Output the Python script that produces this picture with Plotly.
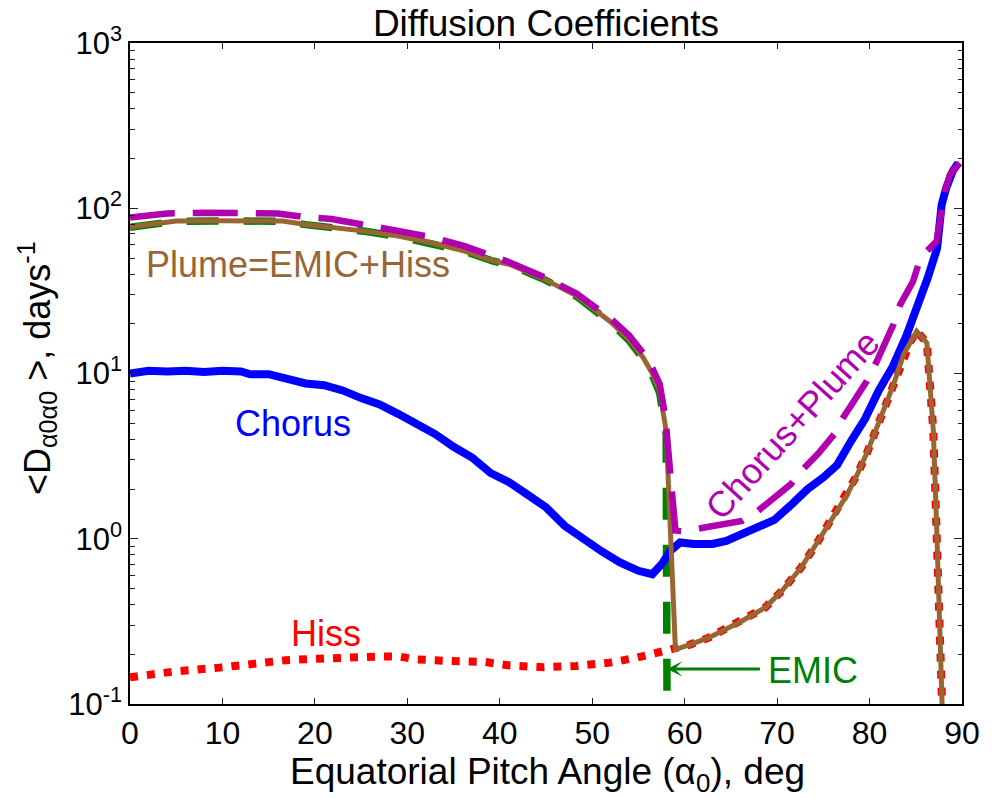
import plotly.graph_objects as go

# ---------------- data ----------------
chorus_x = [0, 2, 4, 6, 8, 10, 12, 13, 15, 17, 19, 21, 23, 25, 27, 29, 31, 33, 35, 37,
            39, 41, 43, 45, 47, 49, 51, 53, 55, 56.5, 57.5, 58.5, 59.5, 61, 63, 64.5,
            66, 68, 69.7, 71.5, 73.3, 75, 76.5, 78, 79.5, 81, 82.5, 84, 85, 86.3, 87.3,
            87.8, 88.3, 89.0, 89.6]
chorus_y = [10.0, 10.4, 10.3, 10.4, 10.2, 10.4, 10.3, 9.9, 9.9, 9.4, 8.7, 8.5, 7.9, 7.1,
            6.5, 5.7, 5.0, 4.3, 3.6, 3.1, 2.5, 2.2, 1.85, 1.55, 1.2, 1.0, 0.84, 0.72,
            0.64, 0.61, 0.70, 0.85, 0.95, 0.93, 0.93, 0.97, 1.05, 1.18, 1.3, 1.6, 2.0,
            2.35, 2.8, 3.9, 5.3, 7.9, 11.0, 17.0, 23.5, 38, 57, 105, 133, 168, 188]

hiss_x = [0, 4.7, 9.7, 13.2, 16.8, 20.4, 24, 27.5, 29.3, 31.1, 34.7, 38.3, 41.1, 44.7,
          48.3, 51.9, 54.7, 57.2, 59.0, 60.5, 62.6, 66.2, 68.7, 70.5, 72.6, 74.6, 76.2,
          77.6, 78.6, 79.8, 81.2, 82.6, 83.7, 84.4, 85.1, 86.2, 86.9, 87.25, 87.6, 87.9]
hiss_y = [0.145, 0.157, 0.166, 0.175, 0.184, 0.188, 0.193, 0.194, 0.193, 0.186, 0.182,
          0.180, 0.171, 0.167, 0.170, 0.178, 0.190, 0.204, 0.214, 0.228, 0.252, 0.318,
          0.383, 0.483, 0.67, 1.0, 1.41, 1.86, 2.4, 3.39, 5.4, 8.6, 13.1, 15.5, 18.0,
          15.3, 4.5, 1.22, 0.30, 0.08]

plume_x = [0, 2, 5, 10, 16.5, 19, 21.8, 25.4, 29, 32.6, 36.2, 39.3, 41.1, 44.7, 48.3,
           52, 54, 55.5, 56.5, 57.3, 58.0, 59.0, 60.5, 62.6, 66.2, 68.7, 70.5, 72.6,
           74.6, 76.2, 77.6, 78.6, 79.8, 81.2, 82.6, 83.7, 84.4, 85.1, 86.2, 86.9,
           87.25, 87.6, 87.9]
plume_y = [77, 80, 83.6, 84, 83.6, 79.8, 77, 72.7, 67.8, 61.8, 55, 48, 45.7, 37.5, 29.5,
           20.5, 16.0, 12.5, 10.0, 7.8, 4.5, 0.214, 0.228, 0.252, 0.318, 0.383, 0.483,
           0.67, 1.0, 1.41, 1.86, 2.4, 3.39, 5.4, 8.6, 13.1, 15.5, 18.0, 15.3, 4.5,
           1.22, 0.30, 0.08]

emic_x = [0, 2, 5, 10, 16.5, 19, 21.8, 25.4, 29, 32.6, 36.2, 39.3, 41.1, 44.7, 48.3,
          52, 54, 55.5, 56.5, 57.3, 58.0, 58.2]
emic_y = [76.8, 79.8, 83.4, 83.8, 83.4, 79.6, 76.8, 72.5, 67.6, 61.6, 54.8, 47.8, 45.5,
          37.3, 29.3, 20.3, 15.8, 12.3, 9.8, 7.6, 4.3, 0.001]

sum_x = [0, 2, 4, 8, 12, 16, 18.6, 21.8, 25, 28.9, 32.6, 36.2, 39.3, 41.1, 44.7, 48.3,
         52, 54, 55.5, 56.5, 57.3, 57.9, 58.5, 59.0, 59.8, 61.7, 64, 66.2, 67.9, 69.7,
         71.5, 72.6, 74.5, 76.2, 76.9, 78.3, 79.7, 80.8, 82.6, 83.3, 84.7, 85.3, 86.2,
         87.25, 87.8, 88.15, 88.7, 89.75]
sum_y = [88, 91, 93, 94, 94, 93, 89, 86, 80, 73, 67, 59, 51, 47, 38.5, 30.5, 21.5, 17,
         13.3, 10.8, 8.6, 5.5, 2.3, 1.12, 1.11, 1.16, 1.2, 1.28, 1.47, 1.75, 2.14, 2.57,
         3.3, 4.3, 5.15, 6.8, 9.0, 11.9, 19.9, 26, 36, 46, 55, 63, 100, 127, 160, 188]

x_ticks = [0, 10, 20, 30, 40, 50, 60, 70, 80, 90]
y_ticks = [0.1, 1, 10, 100, 1000]
y_tick_text = ["10<sup>-1</sup>", "10<sup>0</sup>", "10<sup>1</sup>", "10<sup>2</sup>",
               "10<sup>3</sup>"]

FONT = "Liberation Sans, Arial, Helvetica, sans-serif"

fig = go.Figure()
# invisible carrier trace for the minor-tick axis (y2)
fig.add_trace(go.Scatter(x=chorus_x, y=chorus_y, yaxis="y2", mode="lines",
                         line=dict(width=0), opacity=0, hoverinfo="skip",
                         showlegend=False))
fig.add_trace(go.Scatter(x=emic_x, y=emic_y, mode="lines", name="EMIC",
                         line=dict(color="#008000", width=7.5, dash="32px,25px")))
fig.add_trace(go.Scatter(x=hiss_x, y=hiss_y, mode="lines", name="Hiss",
                         line=dict(color="#ff0000", width=8, dash="8px,9px")))
fig.add_trace(go.Scatter(x=chorus_x, y=chorus_y, mode="lines", name="Chorus",
                         line=dict(color="#0000ff", width=8)))
fig.add_trace(go.Scatter(x=plume_x, y=plume_y, mode="lines", name="Plume",
                         line=dict(color="#996633", width=5)))
fig.add_trace(go.Scatter(x=sum_x, y=sum_y, mode="lines", name="Chorus+Plume",
                         line=dict(color="#b000b0", width=6.5, dash="45px,18px")))

annotations = [
    dict(text="Plume=EMIC+Hiss", x=18.15, y=1.66, font=dict(color="#996633", size=36)),
    dict(text="Chorus", x=17.65, y=0.70, font=dict(color="#0000ff", size=36)),
    dict(text="Hiss", x=21.2, y=-0.575, font=dict(color="#ff0000", size=36)),
    dict(text="EMIC", x=73.9, y=-0.80, font=dict(color="#008000", size=36)),
    dict(text="Chorus+Plume", x=71.7, y=0.69, textangle=-48,
         font=dict(color="#b000b0", size=36)),
]
for a in annotations:
    a.update(xref="x", yref="y", showarrow=False, xanchor="center", yanchor="middle",
             font=dict(family=FONT, **a["font"]))

# arrow pointing to EMIC line
annotations.append(dict(x=58.1, y=-0.788, ax=68.3, ay=-0.788, xref="x", yref="y",
                        axref="x", ayref="y", text="", showarrow=True, arrowhead=3,
                        arrowsize=0.85, arrowwidth=3, arrowcolor="#008000"))
# axis titles
annotations.append(dict(text="&lt;D<sub>α0α0</sub> &gt;, days<sup>-1</sup>",
                        xref="paper", yref="paper", x=(36 - 130) / 839, y=0.508,
                        textangle=-90, showarrow=False, xanchor="center",
                        yanchor="middle", font=dict(family=FONT, size=36, color="black")))
annotations.append(dict(text="Equatorial Pitch Angle (α<sub>0</sub>), deg",
                        xref="paper", yref="paper", x=0.502, y=(704 - 774) / 661,
                        showarrow=False, xanchor="center", yanchor="middle",
                        font=dict(family=FONT, size=37, color="black")))

fig.update_layout(
    width=992, height=798,
    margin=dict(l=130, r=23, t=43, b=94),
    paper_bgcolor="white", plot_bgcolor="white",
    showlegend=False,
    font=dict(family=FONT, color="black"),
    title=dict(text="Diffusion Coefficients", x=0.5, xref="paper", xanchor="center",
               y=1 - 23 / 798, yref="container", yanchor="middle",
               font=dict(family=FONT, size=37, color="black")),
    annotations=annotations,
)
fig.update_xaxes(range=[0, 90], tickmode="array", tickvals=x_ticks,
                 ticks="inside", ticklen=6, tickwidth=1.2, tickcolor="#222",
                 showline=True, linewidth=1.5, linecolor="black", mirror="ticks",
                 showgrid=False, zeroline=False, tickfont=dict(size=32))
fig.update_layout(
    yaxis=dict(type="log", range=[-1, 3], tickmode="array", tickvals=y_ticks,
               ticktext=y_tick_text, ticks="inside", ticklen=8, tickwidth=1.2,
               tickcolor="#222", showline=True, linewidth=1.5, linecolor="black",
               mirror="ticks", showgrid=False, zeroline=False, tickfont=dict(size=31)),
    yaxis2=dict(type="log", range=[-1, 3], overlaying="y", side="left",
                tickmode="linear", dtick="D1", ticks="inside", ticklen=4.5,
                tickwidth=1.2, tickcolor="#222", showticklabels=False,
                showline=False, mirror="ticks", showgrid=False, zeroline=False),
)

fig.write_html("out.html")
